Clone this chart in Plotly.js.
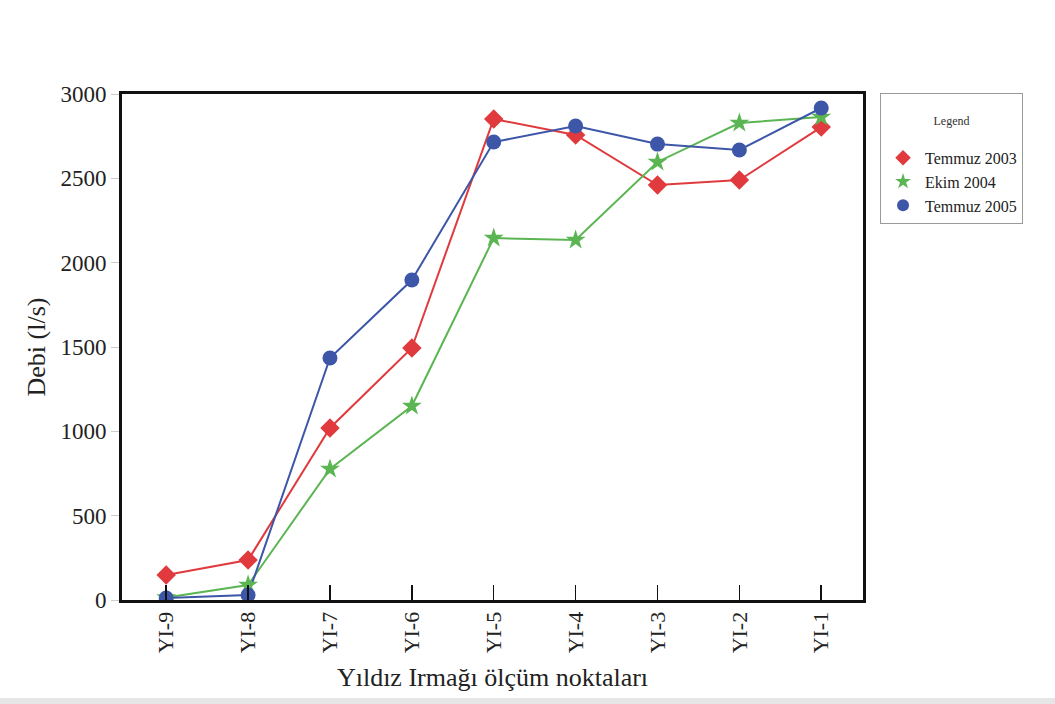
<!DOCTYPE html>
<html>
<head>
<meta charset="utf-8">
<script src="https://cdn.plot.ly/plotly-3.0.1.min.js"></script>
<style>
  html, body { margin: 0; padding: 0; background: #ffffff; }
  #chart { width: 1055px; height: 704px; }
</style>
</head>
<body>
<div id="chart"></div>
<script>
// Measurement stations along the river, upstream to downstream
const stations = ["YI-9", "YI-8", "YI-7", "YI-6", "YI-5", "YI-4", "YI-3", "YI-2", "YI-1"];

// Discharge (l/s) for each campaign
const temmuz2003 = [148, 237, 1020, 1494, 2852, 2757, 2460, 2490, 2804];
const ekim2004   = [15, 89, 777, 1150, 2146, 2134, 2597, 2828, 2864];
const temmuz2005 = [12, 30, 1435, 1897, 2715, 2810, 2703, 2668, 2917];

const seriesNames = ["Temmuz 2003", "Ekim 2004", "Temmuz 2005"];
const yTicks = [0, 500, 1000, 1500, 2000, 2500, 3000];

const serif = "Liberation Serif, Times New Roman, serif";

const styles = [
  { values: temmuz2003, color: "#e03a3e", symbol: "diamond" },
  { values: ekim2004,   color: "#5ab552", symbol: "star" },
  { values: temmuz2005, color: "#3d56a8", symbol: "circle" }
];

// Connecting lines (kept out of the legend so the legend shows symbols only)
const lineTraces = styles.map((s, i) => ({
  x: stations,
  y: s.values,
  name: seriesNames[i],
  type: "scatter",
  mode: "lines",
  line: { color: s.color, width: 2 },
  showlegend: false
}));

// Symbols at each station
const markerTraces = styles.map((s, i) => ({
  x: stations,
  y: s.values,
  name: seriesNames[i],
  type: "scatter",
  mode: "markers",
  marker: { color: s.color, symbol: s.symbol, size: 15 }
}));

const data = lineTraces.concat(markerTraces);

const layout = {
  width: 1055,
  height: 704,
  margin: { l: 122, r: 192, t: 94, b: 104 },
  paper_bgcolor: "#ffffff",
  plot_bgcolor: "#ffffff",
  font: { family: serif, color: "#222222" },
  showlegend: true,
  legend: {
    x: 1.023, xanchor: "left",
    y: 1.002, yanchor: "top",
    bordercolor: "#9a9a9a",
    borderwidth: 1,
    bgcolor: "#ffffff",
    font: { family: serif, size: 16, color: "#222222" },
    title: {
      text: "<br>Legend<br> ",
      side: "top center",
      font: { family: serif, size: 12, color: "#333333" }
    },
    itemwidth: 34,
    itemsizing: "constant",
    tracegroupgap: 0
  },
  shapes: [
    {
      // light strip along the bottom edge of the figure
      type: "rect", xref: "paper", yref: "paper", layer: "below",
      x0: -0.2, x1: 1.3, y0: -0.2055, y1: -0.1937,
      fillcolor: "#e6e6e6", line: { width: 0 }
    }
  ],
  xaxis: {
    type: "category",
    range: [-0.54, 8.51],
    showgrid: false,
    zeroline: false,
    showline: true,
    linecolor: "#111111",
    linewidth: 3,
    mirror: true,
    ticks: "inside",
    ticklen: 15,
    tickwidth: 1.5,
    tickcolor: "#111111",
    tickangle: -90,
    tickfont: { family: serif, size: 22, color: "#222222" },
    title: {
      text: "Yıldız Irmağı ölçüm noktaları",
      font: { family: serif, size: 26, color: "#222222" },
      standoff: 16
    }
  },
  yaxis: {
    range: [0, 3000],
    tickvals: yTicks,
    ticktext: yTicks.map(String),
    showgrid: false,
    zeroline: false,
    showline: true,
    linecolor: "#111111",
    linewidth: 3,
    mirror: true,
    ticks: "outside",
    ticklen: 8,
    tickwidth: 1,
    tickcolor: "#cccccc",
    tickfont: { family: serif, size: 23, color: "#222222" },
    title: {
      text: "Debi (l/s)",
      font: { family: serif, size: 26, color: "#222222" },
      standoff: 8
    }
  }
};

Plotly.newPlot("chart", data, layout, { displayModeBar: false, staticPlot: true });
</script>
</body>
</html>
